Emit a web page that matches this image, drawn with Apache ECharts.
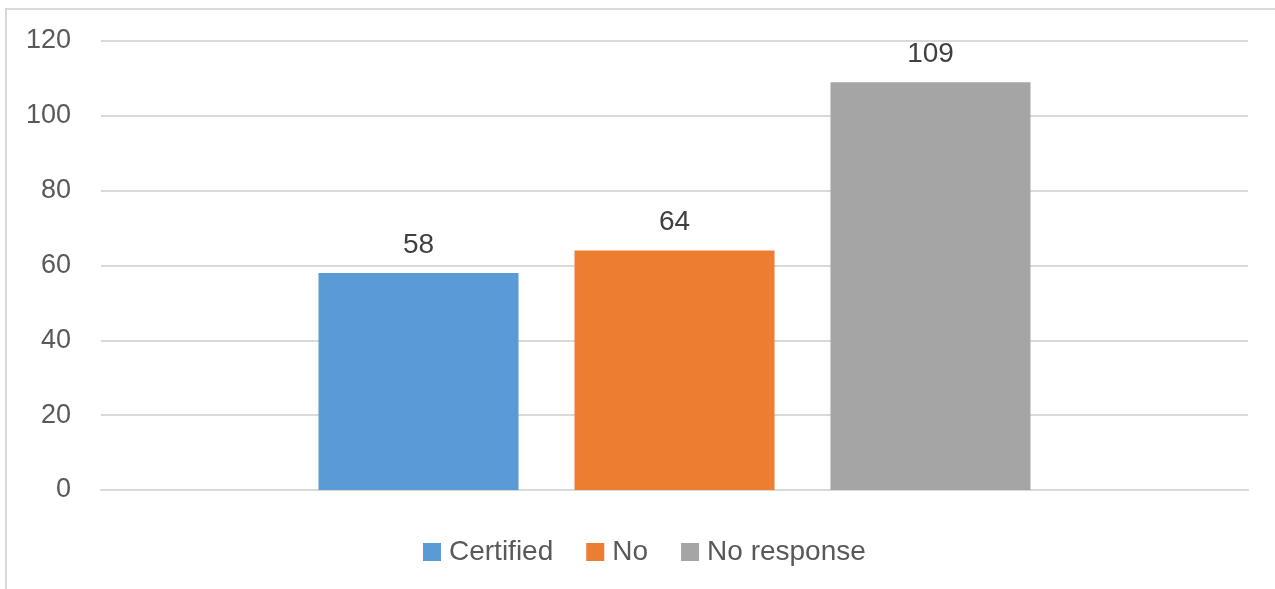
<!DOCTYPE html>
<html>
<head>
<meta charset="utf-8">
<script src="https://cdn.jsdelivr.net/npm/echarts@6/dist/echarts.min.js"></script>
<style>
    html, body { margin: 0; padding: 0; background: #fff; }
    #frame { position: absolute; left: 5px; top: 8px; width: 1300px; height: 600px; border-left: 2px solid #d9d9d9; border-top: 2px solid #d9d9d9; }
    #chart { position: absolute; left: 0; top: 0; width: 1275px; height: 589px; }
</style>
</head>
<body>
<div id="frame"></div>
<div id="chart"></div>
<script>
var categories = [''];
var seriesNames = ['Certified', 'No', 'No response'];
var certifiedData = [58];
var noData = [64];
var noResponseData = [109];
var yTicks = [0, 20, 40, 60, 80, 100, 120];

var colors = ['#5b9bd5', '#ed7d31', '#a5a5a5'];
var fontName = 'Liberation Sans';

var myChart = echarts.init(document.getElementById('chart'));

function barSeries(name, data, color) {
    return {
        name: name,
        type: 'bar',
        data: data,
        barWidth: 200,
        barGap: '28%',
        itemStyle: { color: color },
        label: {
            show: true,
            position: 'top',
            distance: 14,
            color: '#404040',
            fontFamily: fontName,
            fontSize: 28
        }
    };
}

var option = {
    animation: false,
    grid: {
        left: 101,
        right: 27,
        top: 41,
        bottom: 99
    },
    legend: {
        top: 533,
        left: 418,
        itemWidth: 18,
        itemHeight: 18,
        itemGap: 33,
        icon: 'rect',
        textStyle: { color: '#595959', fontFamily: fontName, fontSize: 28, lineHeight: 28, padding: [0, 0, 0, 3] },
        data: seriesNames
    },
    xAxis: {
        type: 'category',
        data: categories,
        axisLine: { lineStyle: { color: '#d9d9d9', width: 2 } },
        axisTick: { show: false },
        axisLabel: { show: false }
    },
    yAxis: {
        type: 'value',
        min: yTicks[0],
        max: yTicks[yTicks.length - 1],
        interval: 20,
        axisLine: { show: false },
        axisTick: { show: false },
        axisLabel: { color: '#595959', fontFamily: fontName, fontSize: 27, margin: 30 },
        splitLine: { lineStyle: { color: '#d9d9d9', width: 2 } }
    },
    series: [
        barSeries(seriesNames[0], certifiedData, colors[0]),
        barSeries(seriesNames[1], noData, colors[1]),
        barSeries(seriesNames[2], noResponseData, colors[2])
    ]
};
myChart.setOption(option);
</script>
</body>
</html>
